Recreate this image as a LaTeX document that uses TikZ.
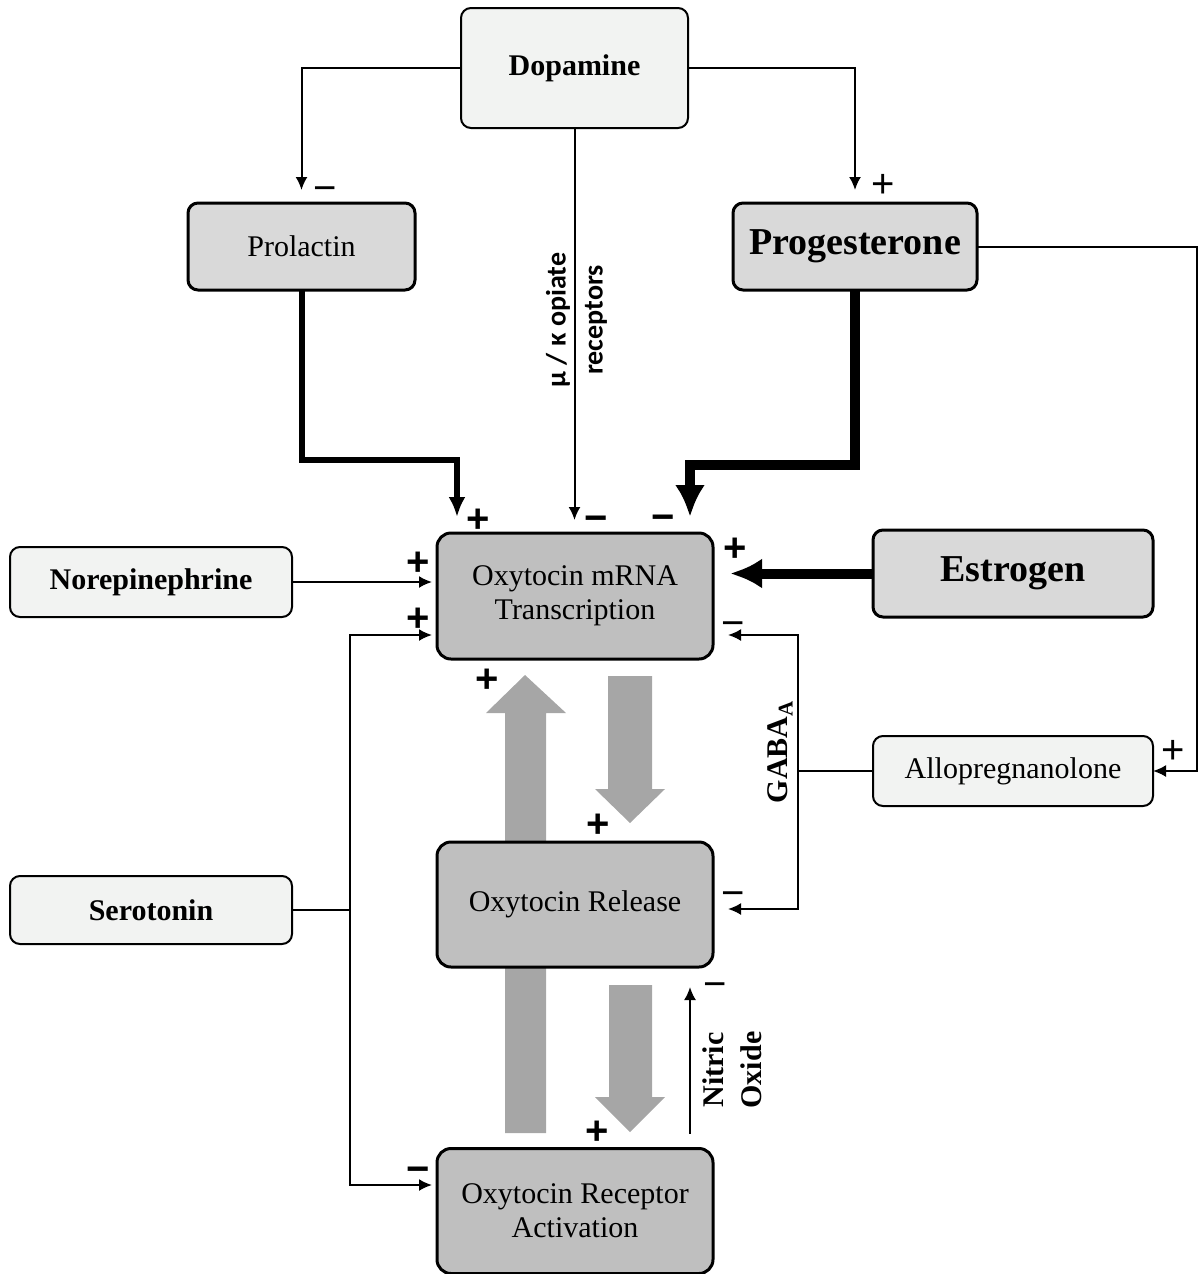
\documentclass[tikz,border=0pt]{standalone}
\usepackage{fontspec}
\setmainfont{Liberation Serif}
\newfontfamily\signfont{Liberation Sans}
\newfontfamily\calibrifont{Carlito}
\usetikzlibrary{arrows.meta}

\definecolor{boxlight}{HTML}{F2F3F2}
\definecolor{boxmid}{HTML}{D9D9D9}
\definecolor{boxdark}{HTML}{BFBFBF}
\definecolor{flowgray}{HTML}{A6A6A6}

\tikzset{
  box/.style={draw, rounded corners=10pt, inner sep=0pt, outer sep=0pt, align=center,
    font=\fontsize{30}{34}\selectfont},
  lightbox/.style={box, fill=boxlight, line width=2pt},
  midbox/.style={box, fill=boxmid, line width=3pt},
  darkbox/.style={box, fill=boxdark, line width=3pt, rounded corners=14pt},
  link/.style={line width=2pt, -{Latex[length=13pt,width=12pt]}},
  heavylink/.style={line width=6pt, -{Latex[length=20pt,width=17pt]}},
  boldlink/.style={line width=10pt, -{Latex[length=32pt,width=30pt]}},
  flow/.style={fill=flowgray},
  sign/.style={inner sep=0pt, text height=28pt, text depth=0pt,
    font=\signfont\fontsize{40}{40}\selectfont},
  boldsign/.style={sign, font=\signfont\bfseries\fontsize{40}{40}\selectfont},
  tag/.style={inner sep=0pt, align=center, rotate=90}
}

\begin{document}
\begin{tikzpicture}[x=1pt, y=-1pt]

    \useasboundingbox (0,0) rectangle (1198,1274);

    % gray flow arrows between the oxytocin stages
    \fill[flow] (505,1133) -- (505,713) -- (486,713) -- (525,675) -- (566,713) -- (546,713) -- (546,1133) -- cycle;
    \fill[flow] (608,676) -- (652,676) -- (652,789) -- (665,789) -- (630,823) -- (595,789) -- (608,789) -- cycle;
    \fill[flow] (609,985) -- (652,985) -- (652,1097) -- (665,1097) -- (630,1132) -- (595,1097) -- (609,1097) -- cycle;

    \node[lightbox, minimum width=227pt, minimum height=120pt, font=\bfseries\fontsize{30}{34}\selectfont] (dopamine) at (574.5,68) {Dopamine};
    \node[midbox, minimum width=227pt, minimum height=87pt] (prolactin) at (301.5,246.5) {Prolactin};
    \node[midbox, minimum width=244pt, minimum height=87pt, font=\bfseries\fontsize{38}{42}\selectfont] (progesterone) at (855,246.5) {Progesterone};

    \node[darkbox, minimum width=276pt, minimum height=126pt] (transcription) at (575,596) {Oxytocin mRNA\\Transcription};
    \node[midbox, minimum width=280pt, minimum height=87pt, font=\bfseries\fontsize{38}{42}\selectfont] (estrogen) at (1013,573.5) {Estrogen};
    \node[lightbox, minimum width=282pt, minimum height=70pt, font=\bfseries\fontsize{30}{34}\selectfont] (norepinephrine) at (151,582) {Norepinephrine};
    \node[lightbox, minimum width=280pt, minimum height=70pt] (allopregnanolone) at (1013,771) {Allopregnanolone};
    \node[lightbox, minimum width=282pt, minimum height=68pt, font=\bfseries\fontsize{30}{34}\selectfont] (serotonin) at (151,910) {Serotonin};
    \node[darkbox, minimum width=276pt, minimum height=125pt] (release) at (575,904.5) {Oxytocin Release};
    \node[darkbox, minimum width=276pt, minimum height=125pt] (receptor) at (575,1211) {Oxytocin Receptor\\Activation};

    \coordinate (prl) at (457,460);
    \coordinate (pgc) at (690,465);
    \coordinate (alc) at (1197,771);
    \coordinate (sej) at (350,910);
    \coordinate (gaj) at (798,771);

    % dopamine outputs
    \draw[link, shorten >=13pt] (dopamine.west) -| (prolactin.north);
    \draw[link, shorten >=13pt] (dopamine.east) -| (progesterone.north);
    \draw[link, shorten >=13pt] (dopamine.south) -- (dopamine.south |- transcription.north);

    % hormones onto transcription
    \draw[heavylink, shorten >=16pt] (prolactin.south) |- (prl) -- (prl |- transcription.north);
    \draw[boldlink, shorten >=16pt] (progesterone.south) |- (pgc) -- (pgc |- transcription.north);
    \draw[boldlink, shorten >=17pt] (estrogen.west) -- (estrogen.west -| transcription.east);
    \draw[link] (progesterone.east) -| (alc) -- (allopregnanolone.east);
    \draw[link, shorten >=5pt] (norepinephrine.east) -- (norepinephrine.east -| transcription.west);

    % serotonin
    \draw[line width=2pt] (serotonin.east) -- (sej);
    \draw[link, shorten >=5pt] (sej) |- ([yshift=-39pt]transcription.west);
    \draw[link, shorten >=5pt] (sej) |- ([yshift=26pt]receptor.west);

    % GABA_A
    \draw[line width=2pt] (allopregnanolone.west) -- (gaj);
    \draw[link, shorten >=15pt] (gaj) |- ([yshift=-39pt]transcription.east);
    \draw[link, shorten >=15pt] (gaj) |- ([yshift=-4.5pt]release.east);

    % nitric oxide
    \draw[link, shorten <=15pt, shorten >=20pt] ([xshift=115pt]receptor.north) -- ([xshift=115pt]release.south);

    % labels
    \node[tag, font=\calibrifont\bfseries\fontsize{28}{37}\selectfont] (opiate) at (576.5,320) {μ / κ opiate\\receptors};
    \node[tag, font=\bfseries\fontsize{30}{34}\selectfont] (gaba) at (780,752) {GABA\textsubscript{A}};
    \node[tag, font=\bfseries\fontsize{30}{38}\selectfont] (nitric) at (732,1070) {Nitric\\Oxide};

    % signs
    \node[sign] (sPrl) at (325,187) {−};
    \node[sign] (sPrg) at (883,183) {+};
    \node[boldsign] (sTrA) at (478,518) {+};
    \node[boldsign] (sTrB) at (596,517) {−};
    \node[boldsign] (sTrC) at (663,516) {−};
    \node[boldsign] (sTrD) at (735,547) {+};
    \node[boldsign] (sTrE) at (418,561) {+};
    \node[boldsign] (sTrF) at (418,617) {+};
    \node[sign] (sTrG) at (733,622) {−};
    \node[boldsign] (sUp) at (487,678) {+};
    \node[boldsign] (sRel) at (598,823) {+};
    \node[sign] (sRelB) at (733,892) {−};
    \node[sign] (sAll) at (1173,749) {+};
    \node[sign] (sNo) at (715,983) {−};
    \node[boldsign] (sRec) at (597,1130) {+};
    \node[boldsign] (sRecB) at (418,1168) {−};

\end{tikzpicture}
\end{document}
